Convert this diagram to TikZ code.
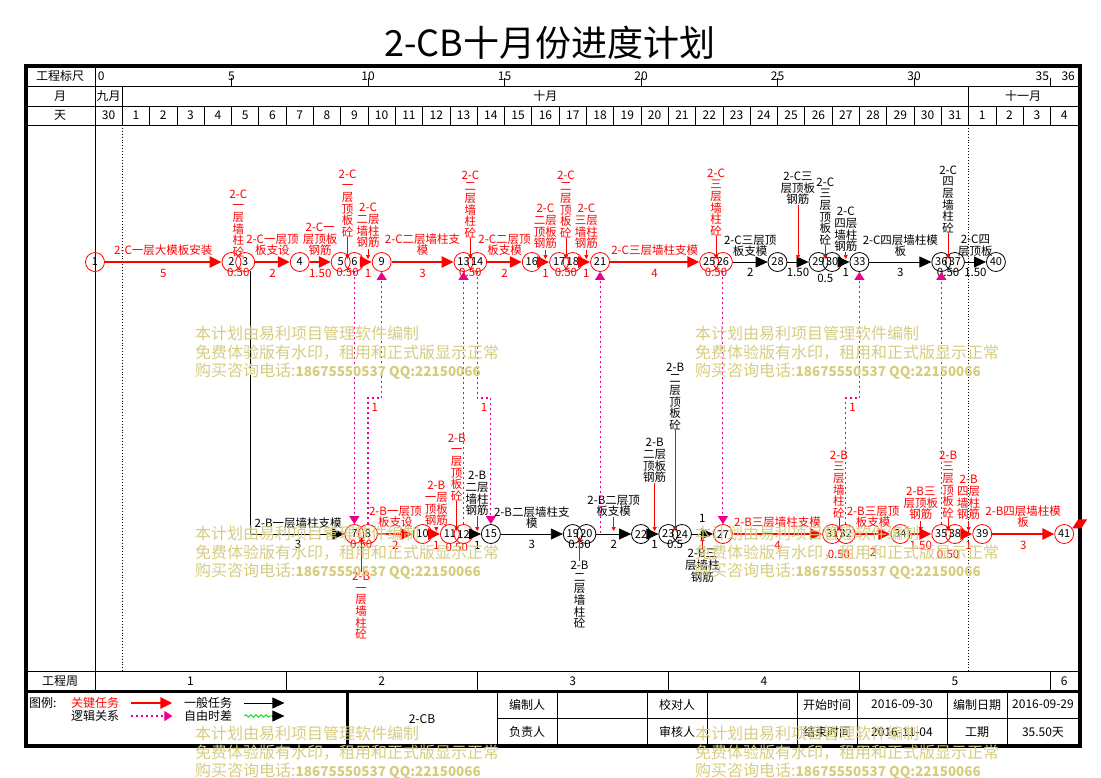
\documentclass[tikz,border=0pt]{standalone}
\usepackage{fontspec}
\setmainfont{Noto Sans CJK SC}
\usetikzlibrary{arrows.meta, positioning, calc, decorations.pathmorphing}

\definecolor{wmkcolor}{RGB}{214,204,128}
\definecolor{slackgreen}{RGB}{0,220,0}
\newcommand{\lbfont}{\fontsize{11.5}{11.6}\selectfont}
\newcommand{\tbfont}{\fontsize{12}{13}\selectfont}

\tikzset{
    event/.style={circle, draw=red, line width=0.8pt, minimum size=19pt, inner sep=0pt, font=\fontsize{11}{11}\selectfont},
    eventn/.style={event, draw=black},
    critical/.style={draw=red, line width=2.6pt, -{Triangle[length=12pt, width=11pt]}},
    general/.style={draw=black, line width=0.8pt, -{Triangle[length=12pt, width=11pt]}},
    logic/.style={draw=magenta, line width=1.1pt, dash pattern=on 2pt off 3pt, -{Triangle[length=8pt, width=10pt]}},
    leader/.style={draw=red, line width=0.7pt, -{Triangle[length=4pt, width=4pt]}},
    slack/.style={draw=slackgreen, line width=0.8pt, decorate, decoration={snake, amplitude=1.3pt, segment length=5pt}},
    critlabel/.style={text=red, font=\lbfont, align=center, inner sep=0pt},
    genlabel/.style={critlabel, text=black},
    cell/.style={font=\tbfont, inner sep=0pt},
    watermark/.style={text=wmkcolor, font=\fontsize{16}{18.5}\selectfont, align=left, inner sep=0pt, anchor=north west}
}

\begin{document}
\begin{tikzpicture}[x=1pt, y=-1pt]
\useasboundingbox (0,0) rectangle (1101,777);

% title
\node[font=\fontsize{36}{38}\selectfont] (title) at (550,43) {2-CB十月份进度计划};

% frame
\draw[line width=0.8pt] (26,86) -- (1078,86) (26,106) -- (1078,106) (26,125) -- (1078,125) (26,671) -- (1078,671);
\draw[line width=3pt] (26,691) -- (1080,691);
\draw[line width=4pt] (26,66) rectangle (1080,746);
\node[cell] (hscale) at (60,76) {工程标尺};
\node[cell] (hmonth) at (60,96) {月};
\node[cell] (hday) at (60,115) {天};
\node[cell] (hweek) at (60,681) {工程周};

\begin{scope}[shift={(95pt,0pt)}, x=27.3pt]
    \draw[line width=0.8pt] (0,66) -- (0,691);
    % scale row
    \foreach \t in {5,10,...,35} \draw[line width=0.8pt] (\t,78) -- (\t,86);
    \foreach \t in {5,10,...,30} \node[cell] at (\t,76) {\t};
    \node[cell, anchor=west] at (0.1,76) {0};
    \node[cell, anchor=east] at (34.95,76) {35};
    \node[cell, anchor=east] at (35.9,76) {36};
    % month row
    \draw[line width=0.8pt] (1,86) -- (1,106) (32,86) -- (32,106);
    \node[cell] at (0.5,96) {九月};
    \node[cell] at (16.5,96) {十月};
    \node[cell] at (34,96) {十一月};
    % day row
    \foreach \t in {1,...,35} \draw[line width=0.8pt] (\t,106) -- (\t,125);
    \node[cell] at (0.5,115) {30};
    \foreach \d in {1,...,31} \node[cell] at (\d+0.5,115) {\d};
    \foreach \d in {1,...,4} \node[cell] at (\d+31.5,115) {\d};
    % month marks
    \draw[dotted, line width=0.9pt] (1,125) -- (1,671) (32,125) -- (32,671);
    % week row
    \foreach \w in {7,14,...,35} \draw[line width=0.8pt] (\w,671) -- (\w,691);
    \foreach \w in {1,...,5} \node[cell] at ({7*\w-3.5},681) {\w};
    \node[cell] at (35.5,681) {6};

    % events, 2-C
    \node[event] (n1) at (0,262) {1};
    \node[event] (n2) at (5,262) {2};
    \node[event] (n3) at (5.5,262) {3};
    \node[event] (n4) at (7.5,262) {4};
    \node[event] (n5) at (9,262) {5};
    \node[event] (n6) at (9.5,262) {6};
    \node[event] (n9) at (10.5,262) {9};
    \node[event] (n13) at (13.5,262) {13};
    \node[event] (n14) at (14,262) {14};
    \node[event] (n16) at (16,262) {16};
    \node[event] (n17) at (17,262) {17};
    \node[event] (n18) at (17.5,262) {18};
    \node[event] (n21) at (18.5,262) {21};
    \node[event] (n25) at (22.5,262) {25};
    \node[event] (n26) at (23,262) {26};
    \node[eventn] (n28) at (25,262) {28};
    \node[eventn] (n29) at (26.5,262) {29};
    \node[eventn] (n30) at (27,262) {30};
    \node[eventn] (n33) at (28,262) {33};
    \node[eventn] (n36) at (31,262) {36};
    \node[eventn] (n37) at (31.5,262) {37};
    \node[eventn] (n40) at (33,262) {40};

    % events, 2-B
    \node[event] (n7) at (9.5,534) {7};
    \node[event] (n8) at (10,534) {8};
    \node[event] (n10) at (12,534) {10};
    \node[event] (n11) at (13,534) {11};
    \node[event] (n12) at (13.5,534) {12};
    \node[eventn] (n15) at (14.5,534) {15};
    \node[eventn] (n19) at (17.5,534) {19};
    \node[eventn] (n20) at (18,534) {20};
    \node[eventn] (n22) at (20,534) {22};
    \node[eventn] (n23) at (21,534) {23};
    \node[eventn] (n24) at (21.5,534) {24};
    \node[event] (n27) at (23,534) {27};
    \node[event] (n31) at (27,534) {31};
    \node[event] (n32) at (27.5,534) {32};
    \node[event] (n34) at (29.5,534) {34};
    \node[event] (n35) at (31,534) {35};
    \node[event] (n38) at (31.5,534) {38};
    \node[event] (n39) at (32.5,534) {39};
    \node[event] (n41) at (35.5,534) {41};
    \fill[red] (n41.35) -- ++(6pt,9pt) -- ++(9pt,0pt) -- ++(-6pt,-9pt) -- cycle;

    % tasks 2-C
    \draw[critical] (n1) -- node[critlabel, above=5pt] {2-C一层大模板安装} node[critlabel, below=6pt] {5} (n2);
    \path (n2) -- node[critlabel, above=5pt] {2-C\\一\\层\\墙\\柱\\砼} node[critlabel, below=6pt] {0.50} (n3);
    \draw[critical] (n3) -- node[critlabel, above=5pt] {2-C一层顶\\板支设} node[critlabel, below=6pt] {2} (n4);
    \draw[critical] (n4) -- node[critlabel, above=5pt] {2-C一\\层顶板\\钢筋} node[critlabel, below=6pt] {1.50} (n5);
    \path (n5) -- node[critlabel, above=25pt] (t5) {2-C\\一\\层\\顶\\板\\砼} node[critlabel, below=6pt] {0.50} (n6);
    \draw[critical] (n6) -- node[critlabel, above=13pt] (t6) {2-C\\二层\\墙柱\\钢筋} node[critlabel, below=6pt] {1} (n9);
    \draw[critical] (n9) -- node[critlabel, above=5pt] {2-C二层墙柱支\\模} node[critlabel, below=6pt] {3} (n13);
    \path (n13) -- node[critlabel, above=24pt] (t13) {2-C\\二\\层\\墙\\柱\\砼} node[critlabel, below=6pt] {0.50} (n14);
    \draw[critical] (n14) -- node[critlabel, above=5pt] {2-C二层顶\\板支模} node[critlabel, below=6pt] {2} (n16);
    \draw[critical] (n16) -- node[critlabel, above=12pt] (t16) {2-C\\二层\\顶板\\钢筋} node[critlabel, below=6pt] {1} (n17);
    \path (n17) -- node[critlabel, above=24pt] (t17) {2-C\\二\\层\\顶\\板\\砼} node[critlabel, below=6pt] {0.50} (n18);
    \draw[critical] (n18) -- node[critlabel, above=12pt] (t18) {2-C\\三层\\墙柱\\钢筋} node[critlabel, below=6pt] {1} (n21);
    \draw[critical] (n21) -- node[critlabel, above=5pt] {2-C三层墙柱支模} node[critlabel, below=6pt] {4} (n25);
    \path (n25) -- node[critlabel, above=26pt] (t25) {2-C\\三\\层\\墙\\柱\\砼} node[critlabel, below=6pt] {0.50} (n26);
    \draw[general] (n26) -- node[genlabel, above=5pt] {2-C三层顶\\板支模} node[genlabel, below=6pt] {2} (n28);
    \draw[general] (n28) -- node[genlabel, above=57pt] (t28) {2-C三\\层顶板\\钢筋} node[genlabel, below=6pt] {1.50} (n29);
    \path (n29) -- node[genlabel, above=17pt] (t29) {2-C\\三\\层\\顶\\板\\砼} node[genlabel, below=12pt] {0.5} (n30);
    \draw[general] (n30) -- node[genlabel, above=10pt] (t30) {2-C\\四层\\墙柱\\钢筋} node[genlabel, below=6pt] {1} (n33);
    \draw[general] (n33) -- node[genlabel, above=5pt] {2-C四层墙柱模\\板} node[genlabel, below=6pt] {3} (n36);
    \path (n36) -- node[genlabel, above=29pt] (t36) {2-C\\四\\层\\墙\\柱\\砼} node[genlabel, below=6pt] {0.50} (n37);
    \draw[general] (n37) -- node[genlabel, above=5pt] {2-C四\\层顶板} node[genlabel, below=6pt] {1.50} (n40);
    \foreach \t in {t5,t6,t13,t16,t17,t18,t25,t28,t29,t30,t36}
        \draw[leader] (\t.south) -- (\t.south |- 0,259);

    % tasks 2-B
    \coordinate (f7) at (8.5,534);
    \coordinate (g7) at (8.95,534);
    \draw[general, -] (n3.-60) |- (f7);
    \draw[slack] (f7) -- (g7);
    \draw[general] (g7) -- (n7);
    \node[genlabel, anchor=south] (t3) at (7.44,529) {2-B一层墙柱支模};
    \node[genlabel, anchor=north] at (7.44,540) {3};
    \path (n7) -- node[critlabel, below=38pt] (t7) {2-B\\一\\层\\墙\\柱\\砼} node[critlabel, below=6pt] {0.50} (n8);
    \draw[critical] (n8) -- node[critlabel, above=5pt] {2-B一层顶\\板支设} node[critlabel, below=6pt] {2} (n10);
    \draw[critical] (n10) -- node[critlabel, above=7pt] (t10) {2-B\\一层\\顶板\\钢筋} node[critlabel, below=6pt] {1} (n11);
    \path (n11) -- node[critlabel, above=33pt] (t11) {2-B\\一\\层\\顶\\板\\砼} node[critlabel, below=9pt] {0.50} (n12);
    \draw[general] (n12) -- node[genlabel, above=18pt] (t12) {2-B\\二层\\墙柱\\钢筋} node[genlabel, below=7pt] {1} (n15);
    \draw[general] (n15) -- node[genlabel, above=5pt] {2-B二层墙柱支\\模} node[genlabel, below=6pt] {3} (n19);
    \path (n19) -- node[genlabel, below=27pt] (t19) {2-B\\二\\层\\墙\\柱\\砼} node[genlabel, below=6pt] {0.50} (n20);
    \draw[general] (n20) -- node[genlabel, above=17pt] (t20) {2-B二层顶\\板支模} node[genlabel, below=6pt] {2} (n22);
    \draw[general] (n22) -- node[genlabel, above=51pt] (t22) {2-B\\二层\\顶板\\钢筋} node[genlabel, below=6pt] {1} (n23);
    \path (n23) -- node[genlabel, above=104pt] (t23) {2-B\\二\\层\\顶\\板\\砼} node[genlabel, below=6pt] {0.5} (n24);
    \draw[general] (n24) -- node[genlabel, below=15pt] (t24) {2-B三\\层墙柱\\钢筋} node[genlabel, above=11pt] {1} (n27);
    \draw[critical] (n27) -- node[critlabel, above=5pt] {2-B三层墙柱支模} node[critlabel, below=6pt] {4} (n31);
    \path (n31) -- node[critlabel, above=16pt] (t31) {2-B\\三\\层\\墙\\柱\\砼} node[critlabel, below=16pt] {0.50} (n32);
    \draw[critical] (n32) -- node[critlabel, above=5pt] {2-B三层顶\\板支模} node[critlabel, below=13pt] {2} (n34);
    \draw[critical] (n34) -- node[critlabel, above=13pt] (t34) {2-B三\\层顶板\\钢筋} node[critlabel, below=6pt] {1.50} (n35);
    \path (n35) -- node[critlabel, above=16pt] (t35) {2-B\\三\\层\\顶\\板\\砼} node[critlabel, below=16pt] {0.50} (n38);
    \draw[critical] (n38) -- node[critlabel, above=13pt] (t38) {2-B\\四层\\墙柱\\钢筋} node[critlabel, below=6pt] {1} (n39);
    \draw[critical] (n39) -- node[critlabel, above=5pt] {2-B四层墙柱模\\板} node[critlabel, below=6pt] {3} (n41);
    \foreach \t in {t10,t11,t12,t20,t22,t23,t31,t34,t35,t38}
        \draw[leader] (\t.south) -- (\t.south |- 0,531);
    \foreach \t in {t7,t19,t24}
        \draw[leader] (\t.north) -- (\t.north |- 0,537);

    % logic links
    \coordinate (j8) at (10,398);
    \coordinate (j9) at (10.5,398);
    \coordinate (j14) at (14,398);
    \coordinate (j15) at (14.5,398);
    \coordinate (j21) at (18.5,533);
    \coordinate (j32) at (27.5,398);
    \coordinate (j33) at (28,398);
    \draw[logic] (n6) -- (n7);
    \draw[logic] (n8) -- (j8) -- node[critlabel, below=5pt] {1} (j9) -- (n9);
    \draw[logic] (n12) -- (n13);
    \draw[logic] (n14) -- (j14) -- node[critlabel, below=5pt] {1} (j15) -- (n15);
    \draw[logic] (j21) -- (n21);
    \draw[logic] (n26) -- (n27);
    \draw[logic] (n32) -- (j32) -- node[critlabel, below=5pt] {1} (j33) -- (n33);
    \draw[logic] (n35) -- (n36);
\end{scope}

% legend
\node[cell, anchor=west] (lgtitle) at (29,703) {图例:};
\node[cell, anchor=west, text=red] (lgcrit) at (71,703) {关键任务};
\node[cell, anchor=west] (lggen) at (184,703) {一般任务};
\node[cell, anchor=west] (lglogic) at (71,716) {逻辑关系};
\node[cell, anchor=west] (lgslack) at (184,716) {自由时差};
\draw[critical] ([xshift=12pt]lgcrit.east) -- ++(41pt,0pt);
\draw[general] ([xshift=12pt]lggen.east) -- ++(40pt,0pt);
\draw[logic] ([xshift=12pt]lglogic.east) -- ++(41pt,0pt);
\draw[slack] ([xshift=12pt]lgslack.east) -- ++(28pt,0pt) coordinate (lgs);
\draw[general] (lgs) -- ++(12pt,0pt);

% info table
\draw[line width=3pt] (347,691) -- (347,746);
\draw[line width=0.8pt] (497,718) -- (1078,718);
\foreach \x in {497,557,647,707,797,857,947,1007} \draw[line width=0.8pt] (\x,691) -- (\x,746);
\node[cell] (project) at (422,719) {2-CB};
\node[cell] (maker) at (527,704.5) {编制人};
\node[cell] (owner) at (527,732) {负责人};
\node[cell] (checker) at (677,704.5) {校对人};
\node[cell] (auditor) at (677,732) {审核人};
\node[cell] (start) at (827,704.5) {开始时间};
\node[cell] (finish) at (827,732) {结束时间};
\node[cell] (startv) at (902,704.5) {2016-09-30};
\node[cell] (finishv) at (902,732) {2016-11-04};
\node[cell] (made) at (977,704.5) {编制日期};
\node[cell] (span) at (977,732) {工期};
\node[cell] (madev) at (1043,704.5) {2016-09-29};
\node[cell] (spanv) at (1043,732) {35.50天};

% watermark
\foreach \wx/\wy in {195/326, 695/326, 195/526, 695/526, 195/726, 695/726}
    \node[watermark] at (\wx,\wy) {本计划由易利项目管理软件编制\\免费体验版有水印，租用和正式版显示正常\\购买咨询电话:{\fontsize{13.5}{18.5}\selectfont\bfseries 18675550537 QQ:22150066}};
\end{tikzpicture}
\end{document}
